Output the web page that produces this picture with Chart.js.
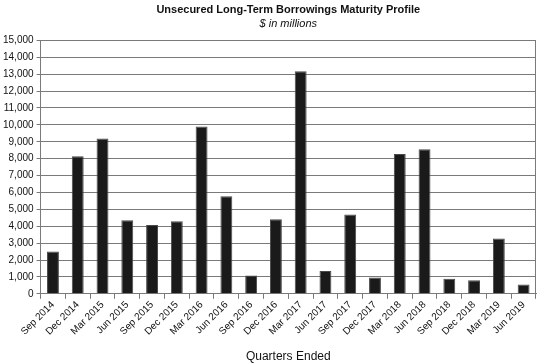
<!DOCTYPE html>
<html>
<head>
<meta charset="utf-8">
<script src="https://cdn.jsdelivr.net/npm/chart.js@4.4.1/dist/chart.umd.min.js"></script>
<style>
  html, body { margin: 0; padding: 0; background: #fff; }
  #wrap { width: 537px; height: 364px; }
</style>
</head>
<body>
<div id="wrap"><canvas id="maturityChart"></canvas></div>
<script>
/* ------------------------------------------------------------
   Data – quarters and maturities ($ in millions)
   ------------------------------------------------------------ */
const quarters = [
    "Sep 2014", "Dec 2014", "Mar 2015", "Jun 2015", "Sep 2015",
    "Dec 2015", "Mar 2016", "Jun 2016", "Sep 2016", "Dec 2016",
    "Mar 2017", "Jun 2017", "Sep 2017", "Dec 2017", "Mar 2018",
    "Jun 2018", "Sep 2018", "Dec 2018", "Mar 2019", "Jun 2019"
];
const maturities = [
    2500, 8150, 9200, 4350, 4080,
    4290, 9900, 5780, 1090, 4410,
    13180, 1350, 4700, 960, 8270,
    8560, 900, 800, 3270, 560
];
const yTicksMax = 15000;
const yTickStep = 1000;

/* ------------------------------------------------------------
   Right frame line of the plot area
   ------------------------------------------------------------ */
const rightFrame = {
    id: "rightFrame",
    afterDraw(chart) {
        const a = chart.chartArea;
        const ctx = chart.ctx;
        ctx.save();
        ctx.strokeStyle = "#7a7a7a";
        ctx.lineWidth = 1;
        ctx.beginPath();
        ctx.moveTo(Math.round(a.right) - 0.5, a.top);
        ctx.lineTo(Math.round(a.right) - 0.5, a.bottom);
        ctx.stroke();
        ctx.restore();
    }
};

new Chart(document.getElementById("maturityChart"), {
    type: "bar",
    data: {
        labels: quarters,
        datasets: [{
            label: "Maturities",
            data: maturities,
            backgroundColor: "#1a1a1a",
            borderColor: "#4a4a4a",
            borderWidth: 1,
            barPercentage: 0.48,
            categoryPercentage: 1.0
        }]
    },
    options: {
        responsive: true,
        maintainAspectRatio: false,
        animation: false,
        layout: { padding: { top: 0, right: 1, bottom: 0, left: 0 } },
        plugins: {
            legend: { display: false },
            tooltip: { enabled: false },
            title: {
                display: true,
                fullSize: false,
                text: "Unsecured Long-Term Borrowings Maturity Profile",
                color: "#111",
                font: { family: "Liberation Sans, Arial", size: 11, weight: "bold" },
                padding: { top: 3, bottom: 1 }
            },
            subtitle: {
                display: true,
                fullSize: false,
                text: "$ in millions",
                color: "#111",
                font: { family: "Liberation Sans, Arial", size: 11, style: "italic" },
                padding: { top: 0, bottom: 10 }
            }
        },
        scales: {
            x: {
                grid: {
                    drawOnChartArea: false,
                    drawTicks: true,
                    tickLength: 5,
                    offset: true,
                    color: "#7a7a7a"
                },
                border: { color: "#7a7a7a" },
                ticks: {
                    color: "#111",
                    minRotation: 45,
                    maxRotation: 45,
                    autoSkip: false,
                    padding: 0,
                    font: { family: "Liberation Sans, Arial", size: 10 }
                },
                title: {
                    display: true,
                    text: "Quarters Ended",
                    color: "#111",
                    font: { family: "Liberation Sans, Arial", size: 12 },
                    padding: { top: 12, bottom: 0 }
                }
            },
            y: {
                min: 0,
                max: yTicksMax,
                grid: {
                    color: "#7a7a7a",
                    tickLength: 4
                },
                border: { color: "#7a7a7a" },
                ticks: {
                    stepSize: yTickStep,
                    color: "#111",
                    padding: 3,
                    font: { family: "Liberation Sans, Arial", size: 10 },
                    callback: v => v.toLocaleString("en-US")
                }
            }
        }
    },
    plugins: [rightFrame]
});
</script>
</body>
</html>
